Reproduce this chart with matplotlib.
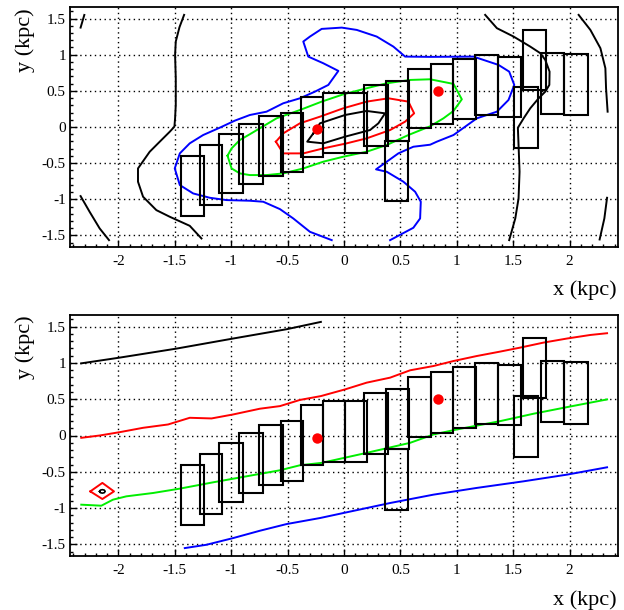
import matplotlib
matplotlib.use("Agg")
import matplotlib.pyplot as plt
from matplotlib.patches import Rectangle
from matplotlib.ticker import MultipleLocator

plt.rcParams['font.family'] = ['Liberation Serif', 'DejaVu Serif']

# ---------------- data ----------------
box_xlo = [-1.45, -1.28, -1.11, -0.93, -0.75, -0.56, -0.38, -0.19, 0.01, 0.18, 0.37, 0.36, 0.57, 0.77, 0.97, 1.16, 1.37, 1.59, 1.51, 1.75, 1.95]
box_xhi = [-1.24, -1.08, -0.90, -0.72, -0.54, -0.36, -0.19, 0.01, 0.20, 0.39, 0.58, 0.57, 0.77, 0.97, 1.17, 1.37, 1.57, 1.79, 1.72, 1.95, 2.16]
box_ylo = [-1.23, -1.08, -0.91, -0.79, -0.68, -0.62, -0.41, -0.36, -0.36, -0.26, -0.19, -1.03, -0.02, 0.04, 0.11, 0.16, 0.14, 0.51, -0.29, 0.18, 0.16]
box_yhi = [-0.40, -0.25, -0.10, 0.04, 0.15, 0.20, 0.42, 0.47, 0.47, 0.58, 0.64, -0.19, 0.80, 0.87, 0.94, 1.00, 0.97, 1.34, 0.55, 1.02, 1.01]

dots_x = [-0.24, 0.83]
dots_y = [-0.03, 0.50]

# top panel contours
blk1_x = [-2.303, -2.336]
blk1_y = [1.55, 1.375]
blk2_x = [-1.418, -1.459, -1.492, -1.498, -1.492, -1.492, -1.498, -1.504, -1.545, -1.634, -1.723, -1.827, -1.827, -1.782, -1.664, -1.545, -1.368, -1.264]
blk2_y = [1.551, 1.381, 1.182, 0.997, 0.674, 0.305, 0.120, 0.005, -0.065, -0.203, -0.342, -0.573, -0.757, -0.965, -1.150, -1.242, -1.367, -1.542]
blk3_x = [-2.336, -2.256, -2.167, -2.084]
blk3_y = [-0.956, -1.173, -1.403, -1.565]
blk4_x = [1.252, 1.356, 1.504, 1.652, 1.741, 1.785, 1.823, 1.821, 1.785, 1.726, 1.652, 1.593, 1.542, 1.548, 1.557, 1.548, 1.519, 1.465]
blk4_y = [1.551, 1.367, 1.251, 1.112, 1.021, 0.928, 0.766, 0.582, 0.489, 0.397, 0.259, 0.120, -0.010, -0.249, -0.619, -0.988, -1.265, -1.565]
blk5_x = [2.081, 2.185, 2.274, 2.318, 2.324, 2.338]
blk5_y = [1.551, 1.343, 1.090, 0.813, 0.536, 0.212]
blk6_x = [2.333, 2.309, 2.267]
blk6_y = [-0.979, -1.265, -1.556]
blk7_x = [-0.272, -0.213, 0.009, 0.201, 0.364, 0.305, 0.231, 0.009, -0.184, -0.326, -0.272]
blk7_y = [-0.088, 0.051, 0.166, 0.222, 0.189, 0.051, -0.042, -0.134, -0.226, -0.203, -0.088]

red_x = [-0.604, -0.539, -0.391, -0.213, -0.006, 0.201, 0.394, 0.571, 0.622, 0.542, 0.409, 0.201, 0.024, -0.184, -0.361, -0.539, -0.604]
red_y = [-0.203, -0.088, 0.051, 0.143, 0.259, 0.351, 0.397, 0.351, 0.189, 0.074, -0.042, -0.157, -0.226, -0.296, -0.365, -0.365, -0.203]

grn_x = [-1.033, -0.997, -0.924, -0.835, -0.598, -0.391, -0.198, -0.006, 0.201, 0.379, 0.586, 0.764, 0.971, 1.045, 0.971, 0.882, 0.764, 0.571, 0.379, 0.201, -0.006, -0.184, -0.361, -0.539, -0.687, -0.835, -0.924, -0.997, -1.033]
grn_y = [-0.397, -0.296, -0.180, -0.100, 0.120, 0.235, 0.351, 0.452, 0.536, 0.605, 0.651, 0.660, 0.596, 0.383, 0.222, 0.120, 0.010, -0.111, -0.249, -0.342, -0.411, -0.480, -0.573, -0.642, -0.665, -0.665, -0.642, -0.573, -0.397]

blu_x = [-0.109, -0.302, -0.450, -0.568, -0.716, -0.835, -1.042, -1.190, -1.338, -1.456, -1.501, -1.456, -1.368, -1.249, -1.101, -0.968, -0.835, -0.687, -0.539, -0.391, -0.258, -0.139, -0.050, -0.184, -0.317, -0.361, -0.302, -0.198, -0.020, 0.113, 0.290, 0.438, 0.542, 0.764, 1.148, 1.370, 1.465, 1.510, 1.459, 1.356, 1.178, 0.971, 0.823, 0.764, 0.615, 0.482, 0.379, 0.284, 0.379, 0.527, 0.631, 0.681, 0.675, 0.615, 0.409]
blu_y = [-1.565, -1.450, -1.265, -1.136, -1.034, -1.020, -1.011, -0.979, -0.919, -0.803, -0.573, -0.365, -0.226, -0.111, -0.009, 0.088, 0.166, 0.212, 0.328, 0.397, 0.489, 0.582, 0.776, 0.882, 0.974, 1.182, 1.251, 1.357, 1.375, 1.343, 1.251, 1.112, 0.974, 0.970, 0.974, 0.859, 0.766, 0.582, 0.374, 0.212, 0.120, -0.111, -0.203, -0.245, -0.273, -0.365, -0.480, -0.586, -0.619, -0.757, -0.896, -1.034, -1.265, -1.394, -1.565]

# bottom panel lines
lb_x = [-2.330, -1.989, -1.486, -0.983, -0.509, -0.205]
lb_y = [0.994, 1.073, 1.197, 1.336, 1.464, 1.565]
lr_x = [-2.330, -2.167, -1.989, -1.782, -1.560, -1.368, -1.175, -0.983, -0.746, -0.568, -0.391, -0.205, 0.009, 0.201, 0.409, 0.586, 0.793, 0.971, 1.178, 1.385, 1.563, 1.770, 1.978, 2.185, 2.333]
lr_y = [-0.032, 0.000, 0.046, 0.106, 0.152, 0.244, 0.235, 0.290, 0.369, 0.405, 0.490, 0.543, 0.635, 0.728, 0.797, 0.898, 0.957, 1.026, 1.095, 1.156, 1.211, 1.280, 1.336, 1.385, 1.409]
lg_x = [-2.330, -2.152, -2.049, -1.930, -1.693, -1.456, -1.161, -0.864, -0.568, -0.391, -0.198, 0.201, 0.586, 0.793, 1.000, 1.385, 1.681, 1.978, 2.333]
lg_y = [-0.953, -0.967, -0.884, -0.838, -0.792, -0.732, -0.645, -0.562, -0.479, -0.410, -0.377, -0.239, -0.101, 0.014, 0.083, 0.198, 0.300, 0.391, 0.497]
lbl_x = [-1.412, -1.219, -0.983, -0.746, -0.509, -0.213, -0.006, 0.409, 0.793, 1.178, 1.593, 1.978, 2.333]
lbl_y = [-1.551, -1.505, -1.413, -1.312, -1.220, -1.137, -1.068, -0.930, -0.815, -0.722, -0.631, -0.539, -0.438]
dia_x = [-2.250, -2.143, -2.040, -2.143, -2.250]
dia_y = [-0.770, -0.653, -0.770, -0.875, -0.770]
ell_x = [-2.168, -2.160, -2.143, -2.126, -2.118, -2.126, -2.143, -2.160, -2.168]
ell_y = [-0.770, -0.752, -0.746, -0.752, -0.770, -0.788, -0.794, -0.788, -0.770]

xticks = [-2, -1.5, -1, -0.5, 0, 0.5, 1, 1.5, 2]
xticklabels = ['-2', '-1.5', '-1', '-0.5', '0', '0.5', '1', '1.5', '2']
yticks = [-1.5, -1, -0.5, 0, 0.5, 1, 1.5]
yticklabels = ['-1.5', '-1', '-0.5', '0', '0.5', '1', '1.5']

# ---------------- figure ----------------
W, H = 624, 610
fig = plt.figure(figsize=(W / 100, H / 100), dpi=100)

def make_axes(top_px, bot_px):
    left, right = 70, 618
    return fig.add_axes([left / W, 1 - bot_px / H, (right - left) / W, (bot_px - top_px) / H])

ax1 = make_axes(7, 247)
ax2 = make_axes(315, 556)

lw = 1.4
box_lw = 1.5
for ax in (ax1, ax2):
    ax.set_xlim(-2.43, 2.43)
    ax.set_ylim(-1.66, 1.66)
    ax.set_xticks(xticks)
    ax.set_xticklabels(xticklabels)
    ax.set_yticks(yticks)
    ax.set_yticklabels(yticklabels)
    ax.xaxis.set_minor_locator(MultipleLocator(0.1))
    ax.yaxis.set_minor_locator(MultipleLocator(0.1))
    ax.tick_params(which='both', direction='in', top=False, right=False, labelsize=11, colors='black')
    ax.tick_params(which='major', length=5, width=1)
    ax.tick_params(which='minor', length=2.5, width=1)
    ax.tick_params(axis='x', pad=6)
    ax.tick_params(axis='y', pad=3)
    ax.grid(True, which='major', color='black', linestyle=(0, (1, 2.5)), linewidth=1)
    ax.set_axisbelow(True)
    for s in ax.spines.values():
        s.set_linewidth(1.3)
    for xl, xh, yl, yh in zip(box_xlo, box_xhi, box_ylo, box_yhi):
        ax.add_patch(Rectangle((xl, yl), xh - xl, yh - yl, fill=False, edgecolor='black', linewidth=box_lw, zorder=4))
    ax.plot(dots_x, dots_y, 'o', color='#ff0000', markersize=7.5, zorder=6, markeredgewidth=0)

# top panel contours
for xs, ys in [(blk1_x, blk1_y), (blk2_x, blk2_y), (blk3_x, blk3_y), (blk4_x, blk4_y),
               (blk5_x, blk5_y), (blk6_x, blk6_y), (blk7_x, blk7_y)]:
    ax1.plot(xs, ys, color='black', lw=lw, zorder=3)
ax1.plot(red_x, red_y, color='#ff0000', lw=lw, zorder=3)
ax1.plot(grn_x, grn_y, color='#00ee00', lw=lw, zorder=3)
ax1.plot(blu_x, blu_y, color='#0000ff', lw=lw, zorder=3)

# bottom panel lines
ax2.plot(lb_x, lb_y, color='black', lw=lw, zorder=3)
ax2.plot(lr_x, lr_y, color='#ff0000', lw=lw, zorder=3)
ax2.plot(lg_x, lg_y, color='#00ee00', lw=lw, zorder=3)
ax2.plot(lbl_x, lbl_y, color='#0000ff', lw=lw, zorder=3)
ax2.plot(dia_x, dia_y, color='#ff0000', lw=lw, zorder=3)
ax2.plot(ell_x, ell_y, color='black', lw=1.2, zorder=3)

# axis titles (ROOT style)
for ax, xlab_y, ylab_top in [(ax1, 290, 8), (ax2, 600, 315)]:
    fig.text(617 / W, 1 - xlab_y / H, 'x (kpc)', ha='right', va='center', fontsize=16)
    fig.text(25 / W, 1 - ylab_top / H, 'y (kpc)', ha='center', va='top', rotation=90, fontsize=16)

fig.savefig('out.png', dpi=100)
